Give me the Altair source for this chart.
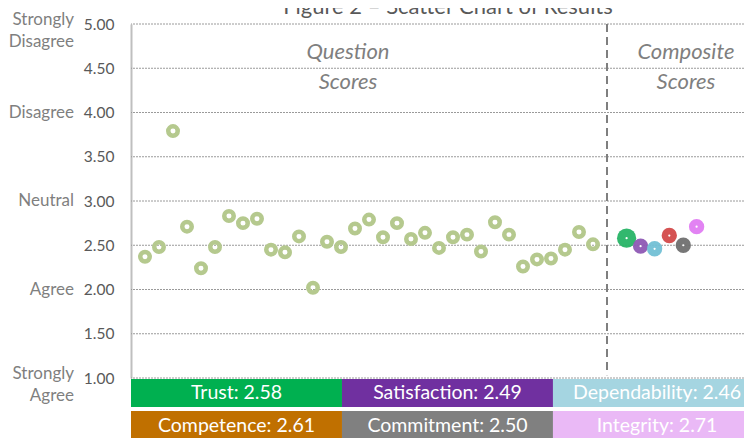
import altair as alt
import pandas as pd

# ---- data ----
q_scores = [2.37, 2.48, 3.79, 2.71, 2.24, 2.48, 2.83, 2.75, 2.80, 2.45,
            2.42, 2.60, 2.02, 2.54, 2.48, 2.69, 2.79, 2.59, 2.75, 2.57,
            2.64, 2.47, 2.59, 2.62, 2.43, 2.76, 2.62, 2.26, 2.34, 2.35,
            2.45, 2.65, 2.51]
comp_names = ["Trust", "Satisfaction", "Dependability", "Competence", "Commitment", "Integrity"]
comp_values = [2.58, 2.49, 2.46, 2.61, 2.50, 2.71]
comp_x = [35.4, 36.4, 37.4, 38.45, 39.45, 40.4]
comp_marker_colors = ["#27b466", "#8e58b4", "#72c0d5", "#d34a4a", "#707070", "#e07cf2"]
comp_box_colors = ["#00b050", "#7030a0", "#a5d5e1", "#c07000", "#808080", "#eab9f6"]
y_ticks = [1.0, 1.5, 2.0, 2.5, 3.0, 3.5, 4.0, 4.5, 5.0]
single_levels = [4, 3, 2]
single_words = ["Disagree", "Neutral", "Agree"]
double_levels = [5, 1]
double_words = [["Strongly", "Disagree"], ["Strongly", "Agree"]]
divider_x = 34
title_text = "Figure 2 \u2013 Scatter Chart of Results"

FONT = "Lato"
PLOT_W = 613
STEP = 14.0
X_MAX = PLOT_W / STEP
xs = alt.Scale(domain=[0, X_MAX], nice=False, zero=False)
ys = alt.Scale(domain=[1, 5], nice=False, zero=False)

q_df = pd.DataFrame({"x": list(range(1, len(q_scores) + 1)), "y": q_scores})
c_df = pd.DataFrame({"x": comp_x, "y": comp_values, "name": comp_names,
                     "color": comp_marker_colors,
                     "size": [370 if i == 0 else 235 for i in range(len(comp_names))]})

# legend boxes table (3 columns x 2 rows below the plot)
col_w = 15.07
rows_y = [(0.989, 0.672), (0.627, 0.25)]
rows_text_y = [0.83, 0.456]
lg = []
for i, (n, v, c) in enumerate(zip(comp_names, comp_values, comp_box_colors)):
    col, row = i % 3, i // 3
    lg.append({"x": col * col_w, "x2": (col + 1) * col_w,
               "y": rows_y[row][0], "y2": rows_y[row][1],
               "xc": col * col_w + col_w / 2 - (0.1 if col == 2 else 0), "yc": rows_text_y[row],
               "label": f"{n}: {v:.2f}", "color": c})
lg_df = pd.DataFrame(lg)

grid = alt.Chart(pd.DataFrame({"y": y_ticks})).mark_rule(
    color="#9a9a9a", strokeWidth=1, strokeDash=[2, 1]
).encode(
    y=alt.Y("y:Q", scale=ys, axis=alt.Axis(
        values=y_ticks, format=".2f", title=None, grid=False, ticks=False,
        domain=True, domainColor="#bfbfbf", domainWidth=2,
        labelColor="#595959", labelFontSize=15.5, labelFont=FONT, labelPadding=17)),
)

divider = alt.Chart(pd.DataFrame({"x": [divider_x], "y": [5], "y2": [1.03]})).mark_rule(
    color="#7f7f7f", strokeWidth=2, strokeDash=[8, 5]
).encode(x=alt.X("x:Q", scale=xs, axis=None), y=alt.Y("y:Q", scale=ys), y2="y2:Q")

qpts = alt.Chart(q_df).mark_point(shape="circle", filled=False, color="#b5c98e",
                                  strokeWidth=4.5, size=90, opacity=1).encode(
    x=alt.X("x:Q", scale=xs, axis=None), y=alt.Y("y:Q", scale=ys))

cpts = alt.Chart(c_df).mark_circle(opacity=0.95).encode(
    x=alt.X("x:Q", scale=xs, axis=None), y=alt.Y("y:Q", scale=ys),
    color=alt.Color("color:N", scale=None), size=alt.Size("size:Q", scale=None))

cdots = alt.Chart(c_df).mark_circle(color="white", opacity=1, size=5).encode(
    x=alt.X("x:Q", scale=xs, axis=None), y=alt.Y("y:Q", scale=ys))

sec_df = pd.DataFrame({"x": [15.5, 15.5, 39.64, 39.64],
                       "y": [4.684, 4.345, 4.684, 4.345],
                       "t": ["Question", "Scores", "Composite", "Scores"]})
sections = alt.Chart(sec_df).mark_text(font=FONT, fontSize=22, fontStyle="italic",
                                       color="#7f7f7f", align="center", baseline="middle").encode(
    x=alt.X("x:Q", scale=xs, axis=None), y=alt.Y("y:Q", scale=ys), text="t:N")

words1 = alt.Chart(pd.DataFrame({"y": single_levels, "t": single_words})).mark_text(
    font=FONT, fontSize=17, color="#7f7f7f", align="right", baseline="middle"
).encode(x=alt.value(-57), y=alt.Y("y:Q", scale=ys), text="t:N")

words2 = alt.Chart(pd.DataFrame({"y": double_levels, "t": double_words})).mark_text(
    font=FONT, fontSize=17, color="#7f7f7f", align="right", baseline="middle", lineHeight=22, dy=-4
).encode(x=alt.value(-57), y=alt.Y("y:Q", scale=ys), text="t")

boxes = alt.Chart(lg_df).mark_rect().encode(
    x=alt.X("x:Q", scale=xs, axis=None), x2="x2:Q",
    y=alt.Y("y:Q", scale=ys), y2="y2:Q",
    color=alt.Color("color:N", scale=None))

box_text = alt.Chart(lg_df).mark_text(font=FONT, fontSize=19.5, color="white",
                                      align="center", baseline="middle").encode(
    x=alt.X("xc:Q", scale=xs, axis=None), y=alt.Y("yc:Q", scale=ys), text="label:N")

title = alt.Chart(pd.DataFrame({"x": [22.64], "y": [5.113], "t": [title_text]})).mark_text(
    font=FONT, fontSize=22, color="#595959", align="center", baseline="alphabetic"
).encode(x=alt.X("x:Q", scale=xs, axis=None), y=alt.Y("y:Q", scale=ys), text="t:N")

chart = alt.layer(grid, divider, qpts, cpts, cdots, sections, words1, words2, boxes, box_text, title).properties(
    width=PLOT_W, height=354,
    autosize=alt.AutoSizeParams(type="none"),
    padding={"left": 123, "top": 16, "right": 0, "bottom": 60},
    background="white",
).configure_view(stroke=None)

chart.save("out.html", embed_options={"renderer": "svg", "actions": False})
